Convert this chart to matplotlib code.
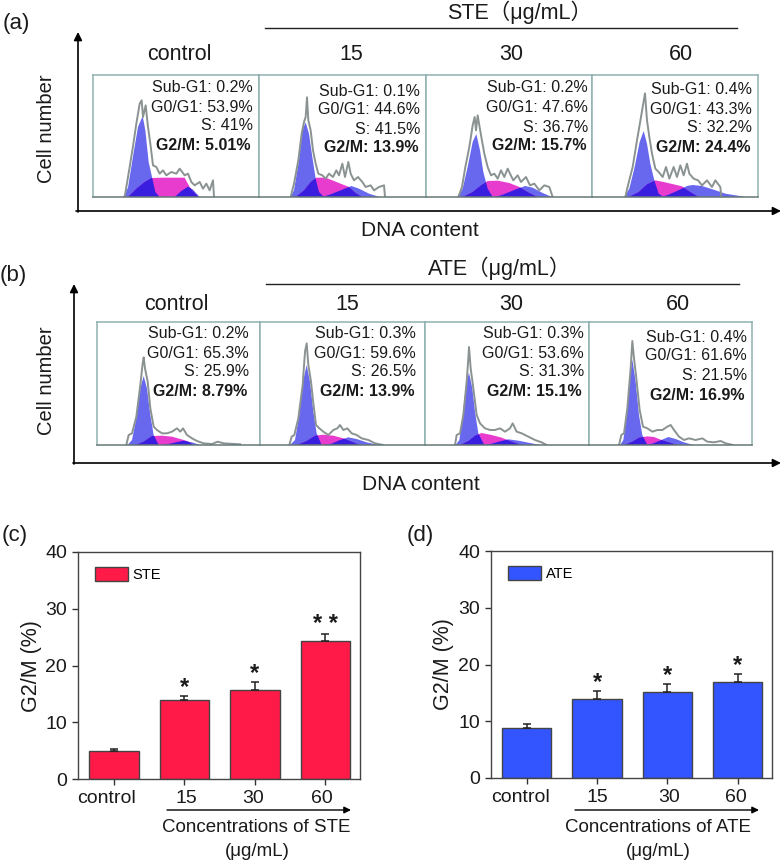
import matplotlib
matplotlib.use("Agg")
import matplotlib.pyplot as plt
from matplotlib.patches import Patch
from matplotlib.transforms import ScaledTranslation

plt.rcParams['font.family'] = ['Liberation Sans', 'Noto Sans CJK SC', 'DejaVu Sans']
W, H = 782, 864

# ---- flow histograms: channel (x) and count (y), one set per panel ----
A0_G1_X = [90,105,120,135,149,157,167,177,187,200]
A0_G1_Y = [0,28,122,210,243,200,105,60,15,0]
A0_S_X = [105,130,155,175,210,275,290,305,318]
A0_S_Y = [0,25,45,57,58,58,30,12,0]
A0_G2_X = [245,265,285,300,320]
A0_G2_Y = [0,18,31,22,0]
A0_OUT_X = [95,110,120,130,140,146,150,158,165,172,180,190,200,210,220,235,250,260,275,285,295,305,320,330,340,350,360,363]
A0_OUT_Y = [0,90,152,220,280,290,240,275,210,160,95,90,70,80,65,75,70,85,65,70,45,35,45,25,40,20,50,0]

A1_G1_X = [94,105,120,130,140,150,160,170,180,195]
A1_G1_Y = [0,20,110,200,224,190,120,55,15,0]
A1_S_X = [110,135,155,172,200,225,250,270,290,310]
A1_S_Y = [0,20,45,58,58,48,38,30,12,0]
A1_G2_X = [190,215,245,277,300,330,362]
A1_G2_Y = [0,8,20,33,25,10,0]
A1_OUT_X = [95,105,118,128,135,140,144,148,155,162,170,178,190,200,210,222,232,240,250,258,268,275,285,297,310,320,335,345,360,375,378]
A1_OUT_Y = [0,40,110,190,225,240,299,230,200,140,100,70,65,55,70,60,80,65,100,60,105,70,50,60,45,30,35,20,30,35,0]

A2_G1_X = [95,110,125,140,151,162,172,185,200]
A2_G1_Y = [0,25,90,165,189,140,75,25,0]
A2_S_X = [110,140,165,185,215,250,280,310,335]
A2_S_Y = [0,15,35,48,49,42,30,12,0]
A2_G2_X = [205,225,250,280,298,320,350,378]
A2_G2_Y = [0,5,15,27,33,28,12,0]
A2_OUT_X = [97,108,118,130,140,146,150,155,160,166,175,185,195,205,215,225,235,245,252,262,275,285,300,312,325,340,355,370,380]
A2_OUT_Y = [0,30,90,150,215,240,200,245,215,180,130,90,65,70,55,80,60,85,70,50,65,45,60,35,40,20,35,30,0]

A3_G1_X = [97,112,128,143,155,165,175,187,200,215]
A3_G1_Y = [0,25,90,165,198,160,100,50,10,0]
A3_S_X = [110,140,165,190,215,245,270,295,320]
A3_S_Y = [0,15,38,50,45,38,32,15,0]
A3_G2_X = [205,225,255,285,302,330,365,400,462]
A3_G2_Y = [0,5,18,33,36,33,22,10,0]
A3_OUT_X = [100,108,122,135,147,152,159,165,172,180,190,200,212,222,232,245,255,265,275,285,292,305,318,330,345,360,370,385,388]
A3_OUT_Y = [0,35,90,170,240,270,311,230,180,130,85,75,60,90,55,90,60,95,65,100,70,55,50,35,50,30,50,30,0]

B0_G1_X = [92,105,118,130,140,150,160,170,185]
B0_G1_Y = [0,15,80,170,207,170,90,30,0]
B0_S_X = [115,140,165,195,225,250,270,290]
B0_S_Y = [0,10,27,28,25,18,12,0]
B0_G2_X = [190,215,240,260,285,310]
B0_G2_Y = [0,3,9,13,8,0]
B0_OUT_X = [88,95,105,118,130,137,140,144,152,160,170,180,195,210,225,240,250,258,270,285,300,320,345,362,380,430]
B0_OUT_Y = [0,30,35,85,180,245,263,230,190,110,55,45,35,35,40,50,40,50,30,20,12,5,3,10,5,2]

B1_G1_X = [90,105,118,130,140,150,160,170,185]
B1_G1_Y = [0,15,90,195,240,190,100,35,0]
B1_S_X = [110,140,165,190,220,250,280,300]
B1_S_Y = [0,12,28,31,28,20,8,0]
B1_G2_X = [190,215,240,265,290,320,355]
B1_G2_Y = [0,4,15,23,18,8,0]
B1_OUT_X = [88,95,103,115,128,135,140,145,153,160,168,178,190,205,220,232,240,250,262,275,290,305,325,345,370]
B1_OUT_Y = [0,25,30,80,180,280,305,240,190,125,60,50,40,30,45,50,60,45,50,35,30,20,15,5,0]

B2_G1_X = [92,103,113,123,132,142,150,160,178]
B2_G1_Y = [0,15,85,180,217,170,100,35,0]
B2_S_X = [105,130,150,170,200,230,260,290]
B2_S_Y = [0,12,28,36,30,22,10,0]
B2_G2_X = [175,200,225,250,280,310,345]
B2_G2_Y = [0,4,11,17,13,7,0]
B2_OUT_X = [90,95,105,115,125,130,132,137,145,155,165,180,195,210,225,240,255,263,275,290,310,330,350,365]
B2_OUT_Y = [0,30,35,90,190,260,294,230,170,90,65,50,45,45,50,40,50,65,40,35,25,15,8,0]

B3_G1_X = [93,103,112,122,130,140,150,160,175]
B3_G1_Y = [0,15,80,200,256,190,90,30,0]
B3_S_X = [105,130,150,175,195,215,240,265]
B3_S_Y = [0,10,22,26,24,16,8,0]
B3_G2_X = [165,190,215,238,260,285,313]
B3_G2_Y = [0,4,14,24,18,8,0]
B3_OUT_X = [90,97,105,115,125,130,135,142,152,162,175,190,205,220,235,245,255,270,285,300,320,340,355,375,395,410,432]
B3_OUT_Y = [0,30,35,110,230,312,260,200,105,55,50,40,45,45,55,60,45,25,15,20,15,20,10,8,12,5,0]

# ---- percentages printed in the panels ----
A_SUB = ['0.2%', '0.1%', '0.2%', '0.4%']
A_G0 = ['53.9%', '44.6%', '47.6%', '43.3%']
A_S = ['41%', '41.5%', '36.7%', '32.2%']
A_G2 = ['5.01%', '13.9%', '15.7%', '24.4%']
B_SUB = ['0.2%', '0.3%', '0.3%', '0.4%']
B_G0 = ['65.3%', '59.6%', '53.6%', '61.6%']
B_S = ['25.9%', '26.5%', '31.3%', '21.5%']
B_G2 = ['8.79%', '13.9%', '15.1%', '16.9%']

# ---- bar charts ----
CATS = ['control', '15', '30', '60']
STE_VAL = [5.01, 13.9, 15.7, 24.4]
STE_ERR = [0.25, 0.7, 1.35, 1.2]
STE_SIG = ['', '*', '*', '* *']
ATE_VAL = [8.79, 13.9, 15.1, 16.9]
ATE_ERR = [0.75, 1.4, 1.4, 1.4]
ATE_SIG = ['', '*', '*', '*']

BLUE_L, BLUE_D, MAG = '#6868ee', '#3a1ee0', '#e83ccf'
BOX = '#8fb0b0'
INK = '#1a1a1a'

fig = plt.figure(figsize=(W / 100, H / 100), dpi=100)

def axpx(x0, y0, x1, y1, **kw):
    return fig.add_axes([x0 / W, 1 - y1 / H, (x1 - x0) / W, (y1 - y0) / H], **kw)

def flow(box, g1x, g1y, sx, sy, g2x, g2y, ox, oy):
    ax = axpx(*box)
    ax.set_xlim(0, (box[2] - box[0]) * 3)
    ax.set_ylim(0, (box[3] - box[1]) * 3)
    ax.set_xticks([]); ax.set_yticks([])
    for s in ax.spines.values():
        s.set_color(BOX); s.set_linewidth(1.1)
    ax.spines['bottom'].set_color('#667777')
    ax.fill(g1x, g1y, color=BLUE_L, lw=0)
    ax.fill(g2x, g2y, color=BLUE_L, lw=0)
    ps = ax.fill(sx, sy, color=MAG, lw=0)[0]
    for xx, yy in ((g1x, g1y), (g2x, g2y)):
        d = ax.fill(xx, yy, color=BLUE_D, lw=0)[0]
        d.set_clip_path(ps)
    ax.plot(ox, oy, color='#8a9292', lw=1.4)

A_BOX = [(93, 75, 259, 197), (259, 75, 426, 197), (426, 75, 592, 197), (592, 75, 758, 197)]
B_BOX = [(97, 322, 260, 445), (260, 322, 425, 445), (425, 322, 589, 445), (589, 322, 752, 445)]

flow(A_BOX[0], A0_G1_X, A0_G1_Y, A0_S_X, A0_S_Y, A0_G2_X, A0_G2_Y, A0_OUT_X, A0_OUT_Y)
flow(A_BOX[1], A1_G1_X, A1_G1_Y, A1_S_X, A1_S_Y, A1_G2_X, A1_G2_Y, A1_OUT_X, A1_OUT_Y)
flow(A_BOX[2], A2_G1_X, A2_G1_Y, A2_S_X, A2_S_Y, A2_G2_X, A2_G2_Y, A2_OUT_X, A2_OUT_Y)
flow(A_BOX[3], A3_G1_X, A3_G1_Y, A3_S_X, A3_S_Y, A3_G2_X, A3_G2_Y, A3_OUT_X, A3_OUT_Y)
flow(B_BOX[0], B0_G1_X, B0_G1_Y, B0_S_X, B0_S_Y, B0_G2_X, B0_G2_Y, B0_OUT_X, B0_OUT_Y)
flow(B_BOX[1], B1_G1_X, B1_G1_Y, B1_S_X, B1_S_Y, B1_G2_X, B1_G2_Y, B1_OUT_X, B1_OUT_Y)
flow(B_BOX[2], B2_G1_X, B2_G1_Y, B2_S_X, B2_S_Y, B2_G2_X, B2_G2_Y, B2_OUT_X, B2_OUT_Y)
flow(B_BOX[3], B3_G1_X, B3_G1_Y, B3_S_X, B3_S_Y, B3_G2_X, B3_G2_Y, B3_OUT_X, B3_OUT_Y)

# overlay in pixel coordinates for annotations
ov = fig.add_axes([0, 0, 1, 1], zorder=10)
ov.set_xlim(0, W); ov.set_ylim(H, 0); ov.axis('off'); ov.patch.set_alpha(0)

def T(x, y, s, size=15.5, ha='center', **kw):
    ov.text(x, y, s, fontsize=size, ha=ha, va='center', color=INK, **kw)

def arrow(x0, y0, x1, y1, lw=1.2, ms=12):
    ov.annotate('', xy=(x1, y1), xytext=(x0, y0),
                arrowprops=dict(arrowstyle='-|>', lw=lw, color='black', mutation_scale=ms,
                                shrinkA=0, shrinkB=0))

def stats(right, ys, sub, g0, s, g2):
    T(right, ys[0], 'Sub-G1: ' + sub, 11.5, 'right')
    T(right, ys[1], 'G0/G1: ' + g0, 11.5, 'right')
    T(right, ys[2], 'S: ' + s, 11.5, 'right')
    T(right - 2, ys[3], 'G2/M: ' + g2, 11.5, 'right', fontweight='bold')

A_RIGHT = [253, 420, 588, 752]
A_YS = [(87, 107, 126, 145), (91, 110, 129, 148), (88, 108, 127, 146), (90, 109, 128, 147)]
B_RIGHT = [249, 416, 584, 747]
B_YS = [(334, 353, 372, 391), (334, 353, 372, 391), (334, 353, 372, 392), (337, 356, 376, 395)]
for i in range(4):
    stats(A_RIGHT[i], A_YS[i], A_SUB[i], A_G0[i], A_S[i], A_G2[i])
    stats(B_RIGHT[i], B_YS[i], B_SUB[i], B_G0[i], B_S[i], B_G2[i])

for x, y, s in zip((179.5, 351, 511, 681), (55, 55, 55, 55), CATS):
    T(x, y, s)
for x, y, s in zip((176, 347, 511, 678), (305, 305, 305, 305), CATS):
    T(x, y, s)

T(520, 12, 'STE（μg/mL）', 15.5)
T(500, 268, 'ATE（μg/mL）', 15.5)
ov.plot([265, 737], [28, 28], color='#222222', lw=1)
ov.plot([266, 739], [284, 284], color='#222222', lw=1)
T(16, 23, '(a)', 16)
T(13.5, 275, '(b)', 16)
T(46, 129, 'Cell number', 14.5, rotation=90)
T(46, 381, 'Cell number', 14.5, rotation=90)
T(420, 231, 'DNA content', 15)
T(421, 485, 'DNA content', 15)
arrow(78, 212, 78, 32); arrow(76, 211, 781, 211)
arrow(74, 464, 74, 284); arrow(73, 463, 781, 463)

def bars(box, vals, errs, sig, color, name, lab_x, lab_off):
    ax = axpx(*box)
    pos = list(range(len(CATS)))
    ax.bar(pos, vals, width=0.7, color=color, edgecolor='#444444', linewidth=1,
           yerr=[[0] * len(errs), errs], ecolor='#222222',
           error_kw=dict(capsize=2.8, elinewidth=1.1, capthick=1.1))
    ax.set_xlim(-0.51, 3.49); ax.set_ylim(0, 40)
    ax.set_yticks([0, 10, 20, 30, 40])
    ax.set_xticks(pos); ax.set_xticklabels(CATS)
    ax.tick_params(labelsize=14, length=4, width=1, color='#333333', labelcolor=INK, pad=4)
    for s in ax.spines.values():
        s.set_color('#444444'); s.set_linewidth(1)
    for lab, d in zip(ax.get_xticklabels(), lab_off):
        lab.set_transform(lab.get_transform() + ScaledTranslation(d / 100, 0, fig.dpi_scale_trans))
    for i, s in enumerate(sig):
        if s:
            ax.annotate(s, (i, vals[i] + errs[i]), xytext=(0, -2), textcoords='offset points',
                        ha='center', va='bottom', fontsize=17, fontweight='bold', color=INK)
    ax.legend(handles=[Patch(facecolor=color, edgecolor='#444444', label=name)],
              loc='upper left', bbox_to_anchor=(0.06, 0.935), frameon=False, fontsize=10.5,
              handlelength=2.3, handleheight=1.15, handletextpad=0.3, borderaxespad=0, borderpad=0)
    T(lab_x[0], lab_x[1], 'G2/M (%)', 15.5, rotation=90)

bars((78, 552, 360, 779), STE_VAL, STE_ERR, STE_SIG, '#ff1a47', 'STE', (32, 666), (-7, 2, -2, -4))
bars((491, 551, 772, 778), ATE_VAL, ATE_ERR, ATE_SIG, '#3355ff', 'ATE', (443, 664), (-6, 0, 2, -2))

T(15, 535, '(c)', 16)
T(420, 535, '(d)', 16)
arrow(167, 810, 351, 810, lw=1, ms=10)
arrow(575, 810, 759, 810, lw=1, ms=10)
T(256, 828, 'Concentrations of STE', 13.5)
T(257, 852, '(μg/mL)', 13.5)
T(658, 828, 'Concentrations of ATE', 13.5)
T(658, 852, '(μg/mL)', 13.5)

fig.savefig('out.png', dpi=100)
